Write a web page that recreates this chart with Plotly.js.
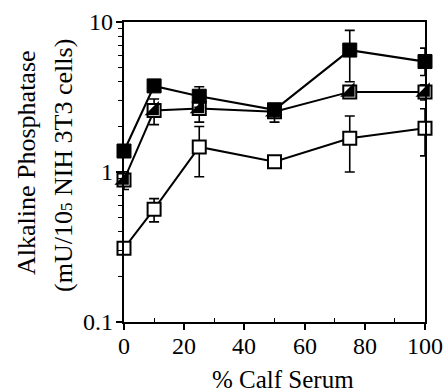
<!DOCTYPE html>
<html>
<head>
<meta charset="utf-8">
<script src="https://cdn.plot.ly/plotly-3.0.1.min.js"></script>
<style>
html,body{margin:0;padding:0;background:#fff;}
</style>
</head>
<body>
<div id="chart" style="width:448px;height:392px"></div>
<script>
// Data
var serum = [0, 10, 25, 50, 75, 100];

var filledVals = [1.38, 3.75, 3.2, 2.6, 6.5, 5.45];
var filledErrPlus = [0, 0, 0.5, 0, 2.3, 1.25];
var filledErrMinus = [0, 0, 0.5, 0.45, 2.5, 1.05];

var halfVals = [0.885, 2.57, 2.65, 2.52, 3.42, 3.42];
var halfErr = [0.12, 0.5, 0.5, 0, 0, 0.4];

var openVals = [0.31, 0.565, 1.47, 1.17, 1.68, 1.96];
var openErr = [0, 0.1, 0.54, 0, 0.68, 0.68];

var xTicks = [0, 20, 40, 60, 80, 100];
var xMinorTicks = [10, 30, 50, 70, 90];
var yTickVals = [0.1, 1, 10];
var yTickText = ['0.1', '1', '10'];
var yMinorVals = [0.2, 0.3, 0.4, 0.5, 0.6, 0.7, 0.8, 0.9, 2, 3, 4, 5, 6, 7, 8, 9];

var xTitle = '% Calf Serum';
var yTitle1 = 'Alkaline Phosphatase';
var yTitle2 = '(mU/10<span style="font-size:17px">5</span> NIH 3T3 cells)';

var FAM = 'Liberation Serif';

function errObj(plus, minus) {
  return {type: 'data', symmetric: false, array: plus, arrayminus: minus,
          color: '#000', thickness: 1.6, width: 5};
}

var traces = [
  {
    x: serum, y: openVals, mode: 'lines+markers', type: 'scatter',
    line: {color: '#000', width: 2},
    marker: {symbol: 'square', size: 13, color: '#fff', line: {color: '#000', width: 2}},
    error_y: errObj(openErr, openErr),
    cliponaxis: false, showlegend: false
  },
  {
    x: serum, y: halfVals, mode: 'lines+markers', type: 'scatter',
    line: {color: '#000', width: 2},
    marker: {symbol: 'square', size: 13, color: '#fff', line: {color: '#000', width: 2}},
    error_y: errObj(halfErr, halfErr),
    cliponaxis: false, showlegend: false
  },
  {
    x: serum, y: halfVals, mode: 'markers', type: 'scatter',
    marker: {symbol: 'triangle-se', size: 16, color: '#000', line: {width: 0}},
    cliponaxis: false, showlegend: false, hoverinfo: 'skip'
  },
  {
    x: serum, y: filledVals, mode: 'lines+markers', type: 'scatter',
    line: {color: '#000', width: 2.2},
    marker: {symbol: 'square', size: 14, color: '#000', line: {color: '#000', width: 1}},
    error_y: errObj(filledErrPlus, filledErrMinus),
    cliponaxis: false, showlegend: false
  }
];

function txt(s, size) {
  return {family: FAM, size: size, color: '#000'};
}

var annotations = [];
// x tick labels placed at the axis tick values
xTicks.forEach(function (v) {
  annotations.push({text: String(v), xref: 'x', x: v, yref: 'paper', y: 0,
    xanchor: 'center', yanchor: 'middle', yshift: -24, showarrow: false, font: txt('', 24)});
});
// y tick labels placed at the log-axis tick values
yTickVals.forEach(function (v, i) {
  annotations.push({text: yTickText[i], xref: 'paper', x: 0, yref: 'y', y: Math.log10(v),
    xanchor: 'right', yanchor: 'middle', xshift: -9, showarrow: false, font: txt('', 24)});
});
// axis titles
annotations.push({text: xTitle, xref: 'paper', x: 0.528, yref: 'paper', y: 0,
  xanchor: 'center', yanchor: 'middle', yshift: -57, showarrow: false, font: txt('', 25)});
annotations.push({text: yTitle1, xref: 'paper', x: 0, yref: 'paper', y: 0.5, textangle: -90,
  xanchor: 'center', yanchor: 'middle', xshift: -98, yshift: 9, showarrow: false, font: txt('', 26)});
annotations.push({text: yTitle2, xref: 'paper', x: 0, yref: 'paper', y: 0.5, textangle: -90,
  xanchor: 'center', yanchor: 'middle', xshift: -61, yshift: 6, showarrow: false, font: txt('', 26)});

var layout = {
  width: 448, height: 392,
  margin: {l: 124, r: 23, t: 22, b: 70},
  paper_bgcolor: '#fff', plot_bgcolor: '#fff',
  xaxis: {
    range: [0, 100], tickvals: xTicks, showticklabels: false,
    ticks: 'outside', ticklen: 6, tickwidth: 1.5, tickcolor: '#000',
    minor: {tickvals: xMinorTicks, ticks: 'inside', ticklen: 4, tickwidth: 1.2, tickcolor: '#000'},
    showline: true, linecolor: '#000', linewidth: 2, mirror: true,
    showgrid: false, zeroline: false, automargin: false
  },
  yaxis: {
    type: 'log', range: [-1, 1],
    tickvals: yTickVals, showticklabels: false,
    ticks: 'outside', ticklen: 6, tickwidth: 1.5, tickcolor: '#000',
    minor: {ticks: 'outside', ticklen: 4, tickwidth: 1.2, tickcolor: '#000', tickvals: yMinorVals},
    showline: true, linecolor: '#000', linewidth: 2, mirror: true,
    showgrid: false, zeroline: false, automargin: false
  },
  annotations: annotations,
  showlegend: false
};

function draw() {
  Plotly.newPlot('chart', traces, layout, {displayModeBar: false});
}
if (document.fonts && document.fonts.load) {
  document.fonts.load('24px "Liberation Serif"').then(draw, draw);
} else {
  draw();
}
</script>
</body>
</html>
